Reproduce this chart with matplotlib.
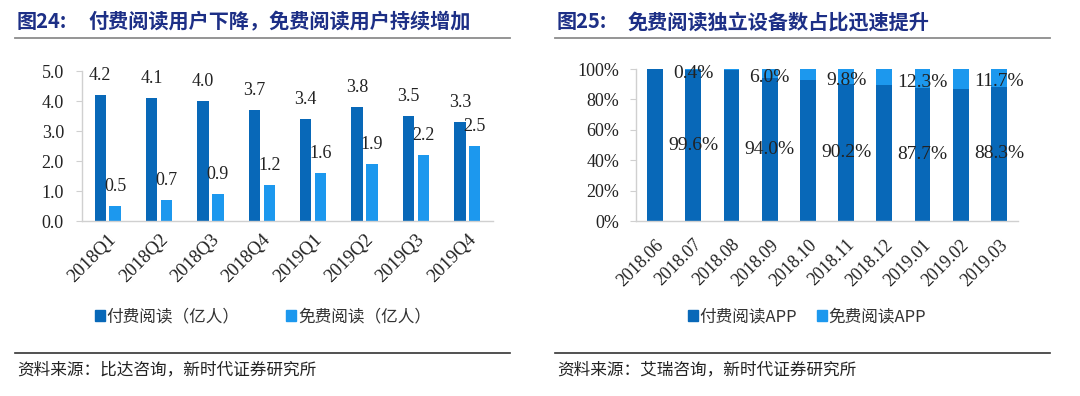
import numpy as np
import matplotlib.pyplot as plt
from matplotlib.patches import Patch
from matplotlib.lines import Line2D

plt.rcParams['font.family'] = ['Liberation Serif', 'Noto Sans CJK SC']

# left panel data
quarters = ['2018Q1', '2018Q2', '2018Q3', '2018Q4', '2019Q1', '2019Q2', '2019Q3', '2019Q4']
paid_users = [4.2, 4.1, 4.0, 3.7, 3.4, 3.8, 3.5, 3.3]
free_users = [0.5, 0.7, 0.9, 1.2, 1.6, 1.9, 2.2, 2.5]

# right panel data
months = ['2018.06', '2018.07', '2018.08', '2018.09', '2018.10', '2018.11',
          '2018.12', '2019.01', '2019.02', '2019.03']
free_share = [0.2, 0.4, 0.5, 6.0, 7.2, 9.8, 10.5, 12.3, 13.3, 11.7]
paid_share = [100 - v for v in free_share]
labelled = [1, 3, 5, 7, 9]

DARK = '#0868B8'
LIGHT = '#1C98EE'
NAVY = '#1D2F86'
GRID = '#D0D0D0'

W, H = 1080, 396
fig = plt.figure(figsize=(W / 100, H / 100), dpi=100)


def fx(px):
    return px / W


def fy(py):
    return 1 - py / H


def style_axes(ax, xpad, ypad):
    for s in ['top', 'right']:
        ax.spines[s].set_visible(False)
    for s in ['left', 'bottom']:
        ax.spines[s].set_color(GRID)
        ax.spines[s].set_linewidth(1.0)
    ax.tick_params(axis='y', length=4, color=GRID, labelcolor='#222222', pad=ypad)
    ax.tick_params(axis='x', length=0, labelcolor='#222222', pad=xpad)


# ---- left chart
ax1 = fig.add_axes([fx(82), fy(221), fx(493) - fx(82), fy(71) - fy(221)])
x = np.arange(len(quarters))
w = 0.22
b1 = ax1.bar(x - 0.145, paid_users, w, color=DARK)
b2 = ax1.bar(x + 0.145, free_users, w, color=LIGHT)
for bars, vals in [(b1, paid_users), (b2, free_users)]:
    for r, v in zip(bars, vals):
        ax1.annotate(f'{v:.1f}', (r.get_x() + r.get_width() / 2, v),
                     xytext=(0, 14), textcoords='offset points',
                     ha='center', va='center', fontsize=13, color='#222222')
ax1.set_xlim(-0.5, len(quarters) - 0.5)
ax1.set_ylim(0, 5)
ax1.set_yticks(np.arange(0, 5.01, 1.0))
ax1.set_yticklabels([f'{t:.1f}' for t in np.arange(0, 5.01, 1.0)], fontsize=13)
ax1.set_xticks(x)
ax1.set_xticklabels(quarters, rotation=45, ha='right', rotation_mode='anchor', fontsize=13.5)
style_axes(ax1, 7, 9)

# ---- right chart
ax2 = fig.add_axes([fx(636), fy(221), fx(1018) - fx(636), fy(69) - fy(221)])
xm = np.arange(len(months))
wm = 0.41
ax2.bar(xm, paid_share, wm, color=DARK)
ax2.bar(xm, free_share, wm, bottom=paid_share, color=LIGHT)
for i in labelled:
    ax2.text(xm[i], paid_share[i] / 2, f'{paid_share[i]:.1f}%', ha='center', va='center',
             fontsize=14, color='#222222')
    ax2.text(xm[i], paid_share[i] + free_share[i] / 2 - 2.5, f'{free_share[i]:.1f}%',
             ha='center', va='center', fontsize=14, color='#222222')
ax2.set_xlim(-0.5, len(months) - 0.5)
ax2.set_ylim(0, 100)
ax2.set_yticks(range(0, 101, 20))
ax2.set_yticklabels([f'{t}%' for t in range(0, 101, 20)], fontsize=13)
ax2.set_xticks(xm)
ax2.set_xticklabels(months, rotation=45, ha='right', rotation_mode='anchor', fontsize=13)
style_axes(ax2, 11, 8)

# ---- legends
cjk = ['Noto Sans CJK SC', 'Liberation Serif']
lg1 = fig.legend([Patch(color=DARK), Patch(color=LIGHT)],
                 ['付费阅读（亿人）', '免费阅读（亿人）'],
                 loc='center', bbox_to_anchor=(fx(263), fy(317)), ncol=2, frameon=False,
                 handlelength=0.6, handleheight=0.6, handletextpad=0.1, columnspacing=2.8,
                 prop={'family': cjk, 'size': 12})
lg2 = fig.legend([Patch(color=DARK), Patch(color=LIGHT)],
                 ['付费阅读APP', '免费阅读APP'],
                 loc='center', bbox_to_anchor=(fx(807), fy(317)), ncol=2, frameon=False,
                 handlelength=0.6, handleheight=0.6, handletextpad=0.1, columnspacing=1.2,
                 prop={'family': cjk, 'size': 12})
for lg in (lg1, lg2):
    for t in lg.get_texts():
        t.set_color('#333333')

# ---- titles, rules, sources
titles = [('图24:', '付费阅读用户下降，免费阅读用户持续增加', 15),
          ('图25:', '免费阅读独立设备数占比迅速提升', 555)]
sources = ['资料来源：比达咨询，新时代证券研究所', '资料来源：艾瑞咨询，新时代证券研究所']
for (num, txt, x0), src in zip(titles, sources):
    fig.text(fx(x0 + 2), fy(22), num, ha='left', va='center', fontsize=14.5,
             fontweight='bold', color=NAVY, family=cjk)
    fig.text(fx(x0 + 73), fy(22), txt, ha='left', va='center', fontsize=14.5,
             fontweight='bold', color=NAVY, family=cjk)
    fig.add_artist(Line2D([fx(x0), fx(x0 + 495)], [fy(37.5), fy(37.5)],
                          color='#8C8C8C', lw=1.3))
    fig.add_artist(Line2D([fx(x0), fx(x0 + 495)], [fy(353), fy(353)],
                          color='#333333', lw=1.2))
    fig.text(fx(x0 + 2), fy(370), src, ha='left', va='center', fontsize=12,
             color='#222222', family=cjk)

fig.savefig('out.png', dpi=100, facecolor='white')
